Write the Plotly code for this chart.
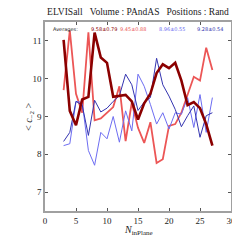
import plotly.graph_objects as go

n_inplane = list(range(3, 28))

dark_red = [11.03, 9.15, 8.77, 9.45, 9.52, 11.22, 10.56, 10.42, 9.52, 9.55, 9.57, 9.40, 8.92,
            9.35, 9.60, 10.15, 10.38, 10.28, 10.42, 9.95, 9.30, 9.38, 9.22, 8.80, 8.23]
light_red = [9.70, 11.28, 9.60, 9.10, 11.23, 8.90, 8.95, 9.10, 9.25, 9.80, 8.35, 9.37, 8.70,
             8.30, 8.85, 7.77, 7.87, 8.75, 8.80, 9.10, 9.55, 10.05, 9.95, 10.82, 10.23]
light_blue = [8.23, 8.28, 9.40, 9.37, 8.10, 7.71, 8.58, 8.41, 9.00, 8.32, 9.15, 8.62, 10.12,
              9.80, 9.32, 8.80, 9.10, 8.67, 9.10, 9.06, 9.50, 8.71, 9.58, 8.58, 9.50]
dark_blue = [8.34, 8.58, 9.40, 9.30, 8.50, 9.43, 9.12, 9.22, 9.40, 9.55, 10.12, 9.84, 9.16,
             9.38, 9.50, 10.54, 9.84, 9.54, 9.19, 8.73, 9.02, 9.28, 8.45, 9.02, 9.10]

avg_labels = ["9.58\u00b10.79", "9.45\u00b10.88", "8.96\u00b10.55", "9.28\u00b10.54"]

c_dred = "#8b0000"
c_lred = "#ec5656"
c_lblue = "#6d6df2"
c_dblue = "#3434b0"

fig = go.Figure()
fig.add_trace(go.Scatter(x=n_inplane, y=light_red, mode="lines", line=dict(color=c_lred, width=1.8)))
fig.add_trace(go.Scatter(x=n_inplane, y=light_blue, mode="lines", line=dict(color=c_lblue, width=1)))
fig.add_trace(go.Scatter(x=n_inplane, y=dark_blue, mode="lines", line=dict(color=c_dblue, width=1)))
fig.add_trace(go.Scatter(x=n_inplane, y=dark_red, mode="lines", line=dict(color=c_dred, width=2.6)))

serif = "Liberation Serif"
axis_common = dict(
    showgrid=False, zeroline=False, showline=True, linecolor="#a0a0a0", linewidth=1.5,
    mirror="ticks", ticks="inside", ticklen=3, tickcolor="#555555", tickwidth=0.8,
    tickfont=dict(family=serif, size=9, color="#222222"),
)

fig.update_layout(
    width=240, height=240,
    margin=dict(l=37, r=13, t=12, b=37),
    paper_bgcolor="white", plot_bgcolor="white",
    showlegend=False,
    xaxis=dict(range=[0, 30], dtick=5, **axis_common),
    yaxis=dict(range=[6.5, 11.5], dtick=1, **axis_common),
    title=dict(text="ELVISall\u00a0\u00a0\u00a0Volume\u00a0:\u00a0PAndAS\u00a0\u00a0\u00a0Positions\u00a0:\u00a0Rand",
               x=0.5, xref="paper", y=0.999, yref="container", yanchor="top",
               font=dict(family=serif, size=9.5, color="#222222"), pad=dict(t=0, b=0)),
)

small = dict(family="DejaVu Sans", size=5)
ann_x = [43, 82, 112, 151, 190]
ann_txt = ["Averages:"] + avg_labels
ann_col = ["#222222", c_dred, c_lred, c_lblue, c_dblue]
for px, t, c in zip(ann_x, ann_txt, ann_col):
    fig.add_annotation(x=(px - 37) / 190, xref="paper", y=1, yref="paper", yshift=-7,
                       xanchor="left", yanchor="middle", text=t, showarrow=False,
                       font=dict(small, color=c))

fig.add_annotation(x=0, xref="paper", y=0.5, yref="paper", xshift=-24, textangle=-90,
                   text="&lt; <i>c</i><sub>\u22122</sub> &gt;", showarrow=False,
                   font=dict(family=serif, size=10, color="#222222"))
fig.add_annotation(x=0.5, xref="paper", y=0, yref="paper", yshift=-19, yanchor="middle",
                   text="<i>N</i><sub>inPlane</sub>", showarrow=False,
                   font=dict(family=serif, size=10, color="#222222"))

fig.write_html("out.html")
